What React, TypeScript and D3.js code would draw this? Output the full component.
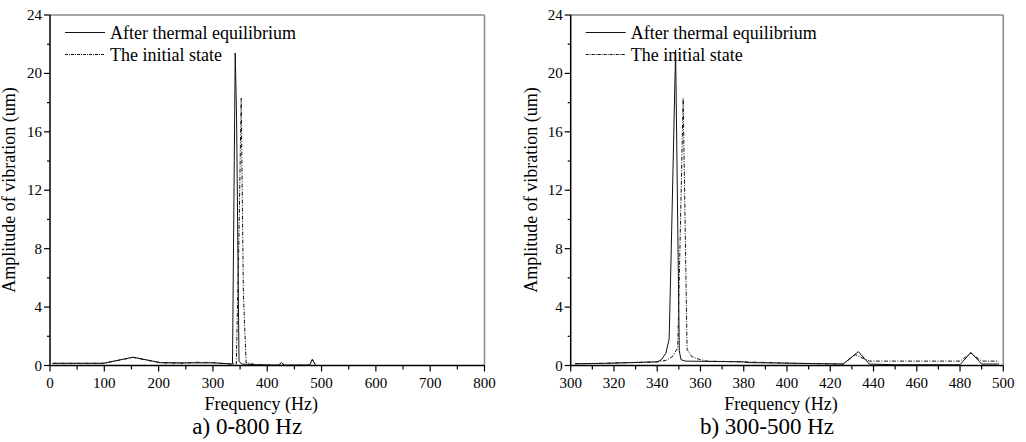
import React from "react";
import * as d3 from "d3";

// ---- Data ----
const seriesNames = ["After thermal equilibrium", "The initial state"];

// Panel a) 0-800 Hz
const freqA_after = [5, 98, 153, 203, 250, 300, 330, 336, 341, 343.5, 348, 353, 380, 420, 426, 432, 478, 483, 489];
const ampA_after = [0.15, 0.15, 0.57, 0.2, 0.18, 0.18, 0.12, 0.1, 21.4, 17, 0.3, 0.1, 0.05, 0.02, 0.2, 0.02, 0.03, 0.42, 0.02];
const freqA_init = [5, 98, 153, 203, 240, 270, 300, 330, 343, 348, 352, 356, 361, 380, 420, 426, 432, 478, 483, 489];
const ampA_init = [0.15, 0.15, 0.55, 0.18, 0.15, 0.22, 0.2, 0.1, 0.1, 9, 18.3, 5, 0.2, 0.05, 0.02, 0.15, 0.02, 0.03, 0.4, 0.02];

// Panel b) 300-500 Hz
const freqB_after = [302, 316, 328, 340, 342, 344, 345.5, 346.5, 348.5, 350.2, 351, 353, 380, 382, 404, 426, 433, 438, 450, 462, 480, 485, 490, 498];
const ampB_after = [0.12, 0.15, 0.2, 0.25, 0.4, 0.85, 1.8, 8, 21.6, 1.0, 0.4, 0.3, 0.25, 0.2, 0.15, 0.1, 0.95, 0.1, 0.05, 0.05, 0.05, 0.9, 0.1, 0.1];
const freqB_init = [302, 316, 328, 340, 344, 347, 349.5, 352, 353.8, 356, 360, 363, 380, 404, 426, 431.5, 438, 480, 485, 490, 498];
const ampB_init = [0.12, 0.15, 0.2, 0.25, 0.35, 0.6, 1.2, 18.3, 1.1, 0.6, 0.4, 0.3, 0.25, 0.15, 0.1, 0.75, 0.3, 0.3, 0.85, 0.3, 0.3];

const yTicks = [0, 4, 8, 12, 16, 20, 24];
const yMinor = [2, 6, 10, 14, 18, 22];
const xTicksA = [0, 100, 200, 300, 400, 500, 600, 700, 800];
const xMinorA = [50, 150, 250, 350, 450, 550, 650, 750];
const xTicksB = [300, 320, 340, 360, 380, 400, 420, 440, 460, 480, 500];
const xMinorB = [310, 330, 350, 370, 390, 410, 430, 450, 470, 490];

const FONT = '"Liberation Serif", "Times New Roman", "DejaVu Serif", serif';
const txt = (size: number): React.CSSProperties => ({ fontFamily: FONT, fontSize: size + "px" });

type PanelProps = {
  x0: number;
  x1: number;
  domain: [number, number];
  xTicks: number[];
  xMinor: number[];
  after: [number[], number[]];
  init: [number[], number[]];
  subtitle: string;
  yTitleX: number;
};

function Panel({ x0, x1, domain, xTicks, xMinor, after, init, subtitle, yTitleX }: PanelProps) {
  const top = 15;
  const bottom = 365.5;
  const x = d3.scaleLinear().domain(domain).range([x0, x1]);
  const y = d3.scaleLinear().domain([0, 24]).range([bottom, top]);
  const line = d3
    .line<[number, number]>()
    .x((d) => x(d[0]))
    .y((d) => y(d[1]));
  const pts = (s: [number[], number[]]) => s[0].map((f, i) => [f, s[1][i]] as [number, number]);
  const cx = (x0 + x1) / 2;
  return (
    <g>
      <line x1={x0} x2={x1} y1={top} y2={top} stroke="#8a8a8a" strokeWidth={1.5} />
      <line x1={x1} x2={x1} y1={top} y2={bottom} stroke="#8a8a8a" strokeWidth={1.5} />
      <path d={line(pts(init)) || ""} fill="none" stroke="#111" strokeWidth={1} strokeDasharray="4,1.5,1,1.5" />
      <path d={line(pts(after)) || ""} fill="none" stroke="#111" strokeWidth={1} />
      <line x1={x0} x2={x0} y1={top} y2={bottom} stroke="#000" strokeWidth={1.5} />
      <line x1={x0} x2={x1} y1={bottom} y2={bottom} stroke="#000" strokeWidth={1.5} />
      {yTicks.map((t) => (
        <g key={"y" + t}>
          <line x1={x0 - 6} x2={x0} y1={y(t)} y2={y(t)} stroke="#000" strokeWidth={1.2} />
          <text x={x0 - 8} y={y(t) + 5} textAnchor="end" style={txt(15)} fill="#000">
            {t}
          </text>
        </g>
      ))}
      {yMinor.map((t) => (
        <line key={"ym" + t} x1={x0 - 3} x2={x0} y1={y(t)} y2={y(t)} stroke="#000" strokeWidth={1.2} />
      ))}
      {xTicks.map((t) => (
        <g key={"x" + t}>
          <line x1={x(t)} x2={x(t)} y1={bottom} y2={bottom + 6} stroke="#000" strokeWidth={1.2} />
          <text x={x(t)} y={388} textAnchor="middle" style={txt(15)} fill="#000">
            {t}
          </text>
        </g>
      ))}
      {xMinor.map((t) => (
        <line key={"xm" + t} x1={x(t)} x2={x(t)} y1={bottom} y2={bottom + 4} stroke="#000" strokeWidth={1.2} />
      ))}
      <text x={cx - 6} y={410} textAnchor="middle" style={txt(18)} fill="#000">
        Frequency (Hz)
      </text>
      <text x={cx - 20} y={434} textAnchor="middle" style={txt(23)} fill="#000">
        {subtitle}
      </text>
      <text transform={`translate(${yTitleX},190) rotate(-90)`} textAnchor="middle" style={txt(18)} fill="#000">
        Amplitude of vibration (um)
      </text>
      <line x1={x0 + 15} x2={x0 + 55} y1={32.5} y2={32.5} stroke="#111" strokeWidth={1} />
      <text x={x0 + 60} y={39} style={txt(18)} fill="#000">
        {seriesNames[0]}
      </text>
      <line x1={x0 + 15} x2={x0 + 55} y1={54.5} y2={54.5} stroke="#111" strokeWidth={1} strokeDasharray="3,1,1,1" />
      <text x={x0 + 60} y={61} style={txt(18)} fill="#000">
        {seriesNames[1]}
      </text>
    </g>
  );
}

export default function App() {
  return (
    <div style={{ position: "absolute", left: 0, top: 0 }}>
      <svg width={1026} height={442} style={{ display: "block", background: "#fff" }}>
        <Panel
          x0={50}
          x1={484.5}
          domain={[0, 800]}
          xTicks={xTicksA}
          xMinor={xMinorA}
          after={[freqA_after, ampA_after]}
          init={[freqA_init, ampA_init]}
          subtitle="a) 0-800 Hz"
          yTitleX={15}
        />
        <Panel
          x0={570.7}
          x1={1003.3}
          domain={[300, 500]}
          xTicks={xTicksB}
          xMinor={xMinorB}
          after={[freqB_after, ampB_after]}
          init={[freqB_init, ampB_init]}
          subtitle="b) 300-500 Hz"
          yTitleX={537}
        />
      </svg>
    </div>
  );
}
